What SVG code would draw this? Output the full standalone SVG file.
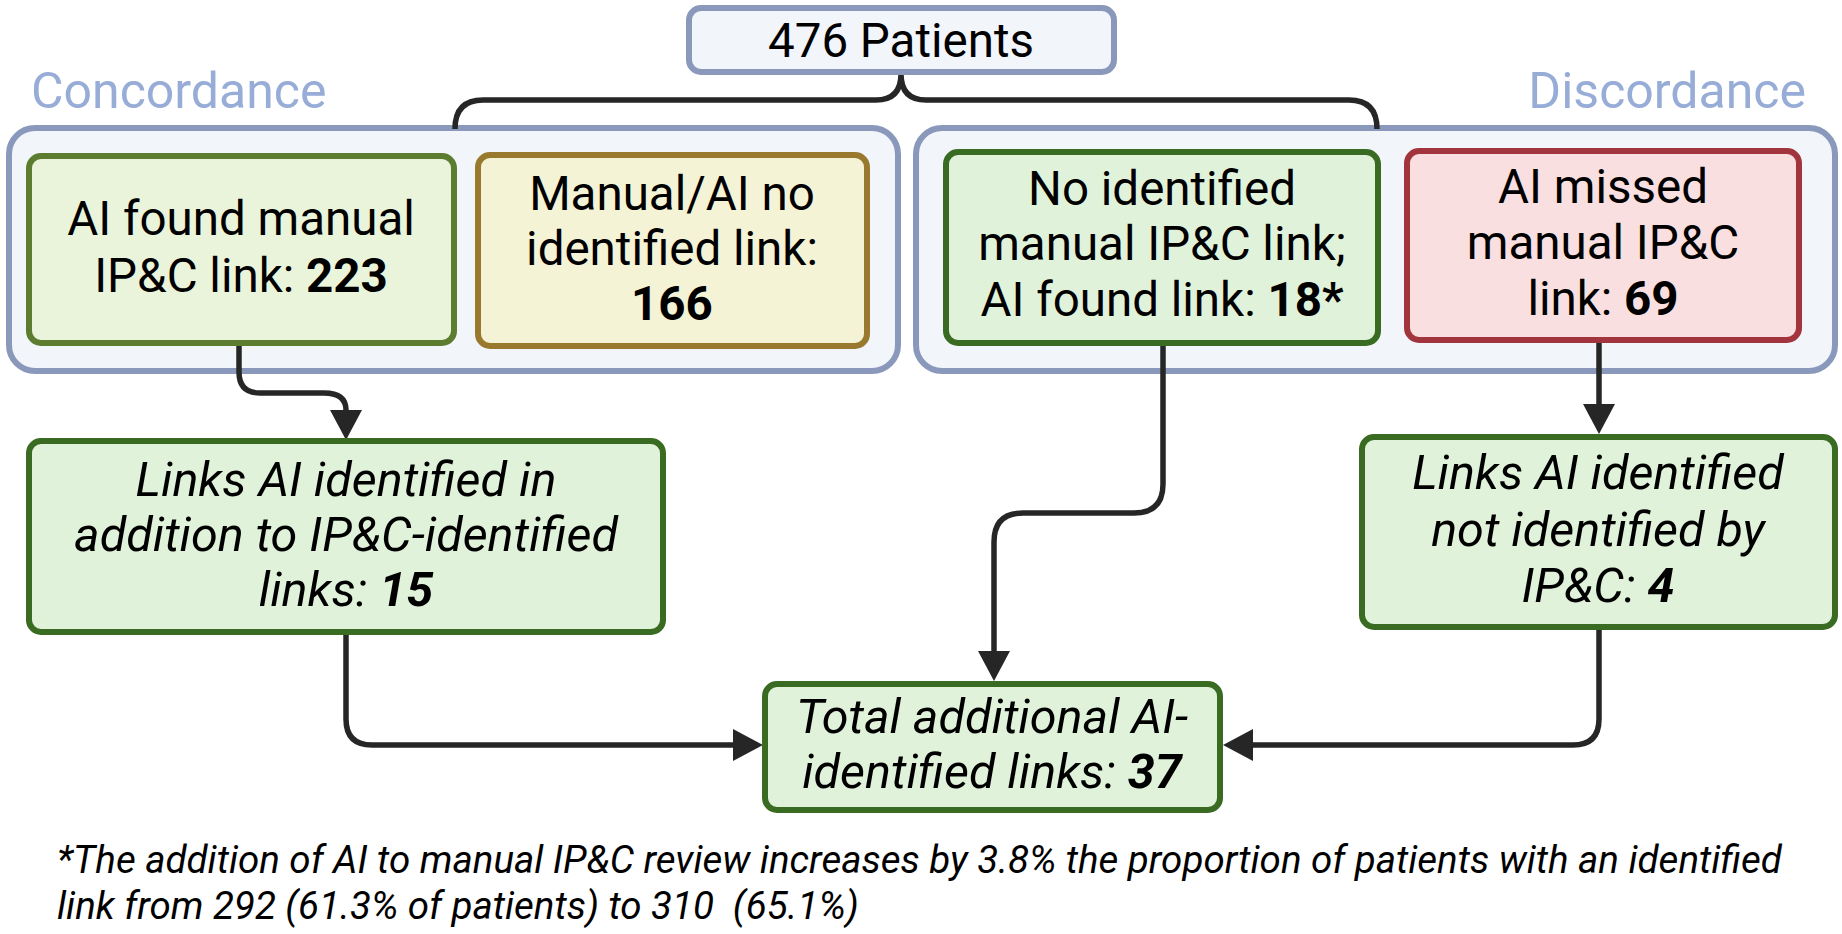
<svg xmlns="http://www.w3.org/2000/svg" width="1842" height="934" viewBox="0 0 1842 934">
<defs>
<style>
text{font-family:Roboto,"Liberation Sans",sans-serif;fill:#000;}
.t{font-size:47.5px;text-anchor:middle;}
.i{font-style:italic;font-size:48.5px;}
.b{font-weight:bold;}
.grp{fill:#f2f5fa;stroke:#8a99bb;stroke-width:6;}
.lbl{font-size:50px;fill:#97acd6;}
.ga{fill:#eaf4da;stroke:#5c7c2f;stroke-width:6;}
.gb{fill:#f4f3d6;stroke:#98792e;stroke-width:6;}
.gc{fill:#e0f2da;stroke:#3a6b22;stroke-width:6;}
.gd{fill:#f9dfdf;stroke:#a2343d;stroke-width:6;}
.con{fill:none;stroke:#262626;stroke-width:5.5;}
.foot{font-size:38.5px;font-style:italic;}
</style>
<marker id="arr" markerUnits="userSpaceOnUse" markerWidth="32" markerHeight="32" refX="0" refY="16" orient="auto" viewBox="0 0 32 32">
<path d="M0,0 L30,16 L0,32 Z" fill="#262626"/>
</marker>
</defs>
<rect width="1842" height="934" fill="#fff"/>
<g id="concordance-group">
<rect class="grp" x="9" y="128" width="889" height="243" rx="26"/>
<text class="lbl" x="31" y="108">Concordance</text>
</g>
<g id="discordance-group">
<rect class="grp" x="916" y="128" width="919" height="243" rx="26"/>
<text class="lbl" x="1806" y="108" text-anchor="end">Discordance</text>
</g>
<g id="connectors">
<path class="con" d="M455,129 Q455,100 483,100 H876 Q901,100 901,74 Q901,100 926,100 H1349 Q1377,100 1377,129"/>
<path class="con" d="M239,346 V372 Q239,393 260,393 H324 Q346,393 346,410" marker-end="url(#arr)"/>
<path class="con" d="M1163,346 V484 Q1163,513 1134,513 H1023 Q994,513 994,542 V651" marker-end="url(#arr)"/>
<path class="con" d="M1599,343 V404" marker-end="url(#arr)"/>
<path class="con" d="M346,632 V719 Q346,745 372,745 H733" marker-end="url(#arr)"/>
<path class="con" d="M1599,627 V719 Q1599,745 1573,745 H1253" marker-end="url(#arr)"/>
</g>
<g id="patients">
<rect class="grp" x="689" y="8" width="425" height="64" rx="12"/>
<text class="t" x="901" y="57">476 Patients</text>
</g>
<g id="ai-found-manual">
<rect class="ga" x="29" y="156" width="425" height="187" rx="12"/>
<text class="t" x="241" y="235">AI found manual</text>
<text class="t" x="241" y="292">IP&amp;C link: <tspan class="b">223</tspan></text>
</g>
<g id="manual-ai-no-link">
<rect class="gb" x="478" y="155" width="389" height="191" rx="12"/>
<text class="t" x="672" y="210">Manual/AI no</text>
<text class="t" x="672" y="265">identified link:</text>
<text class="t b" x="672" y="320">166</text>
</g>
<g id="no-manual-ai-found">
<rect class="gc" x="946" y="152" width="432" height="191" rx="12"/>
<text class="t" x="1162" y="205">No identified</text>
<text class="t" x="1162" y="260">manual IP&amp;C link;</text>
<text class="t" x="1162" y="316">AI found link: <tspan class="b">18*</tspan></text>
</g>
<g id="ai-missed">
<rect class="gd" x="1407" y="151" width="392" height="189" rx="12"/>
<text class="t" x="1603" y="203">AI missed</text>
<text class="t" x="1603" y="259">manual IP&amp;C</text>
<text class="t" x="1603" y="315">link: <tspan class="b">69</tspan></text>
</g>
<g id="links-in-addition">
<rect class="gc" x="29" y="441" width="634" height="191" rx="12"/>
<text class="t i" x="346" y="496">Links AI identified in</text>
<text class="t i" x="346" y="551">addition to IP&amp;C-identified</text>
<text class="t i" x="346" y="606">links: <tspan class="b">15</tspan></text>
</g>
<g id="links-not-identified">
<rect class="gc" x="1362" y="437" width="473" height="190" rx="12"/>
<text class="t i" x="1598" y="489">Links AI identified</text>
<text class="t i" x="1598" y="546">not identified by</text>
<text class="t i" x="1598" y="602">IP&amp;C: <tspan class="b">4</tspan></text>
</g>
<g id="total">
<rect class="gc" x="765" y="684" width="455" height="126" rx="12"/>
<text class="t i" x="992" y="733">Total additional AI-</text>
<text class="t i" x="992" y="788">identified links: <tspan class="b">37</tspan></text>
</g>
<g id="footnote">
<text class="foot" x="57" y="873">*The addition of AI to manual IP&amp;C review increases by 3.8% the proportion of patients with an identified</text>
<text class="foot" x="57" y="919" xml:space="preserve">link from 292 (61.3% of patients) to 310  (65.1%)</text>
</g>
</svg>
